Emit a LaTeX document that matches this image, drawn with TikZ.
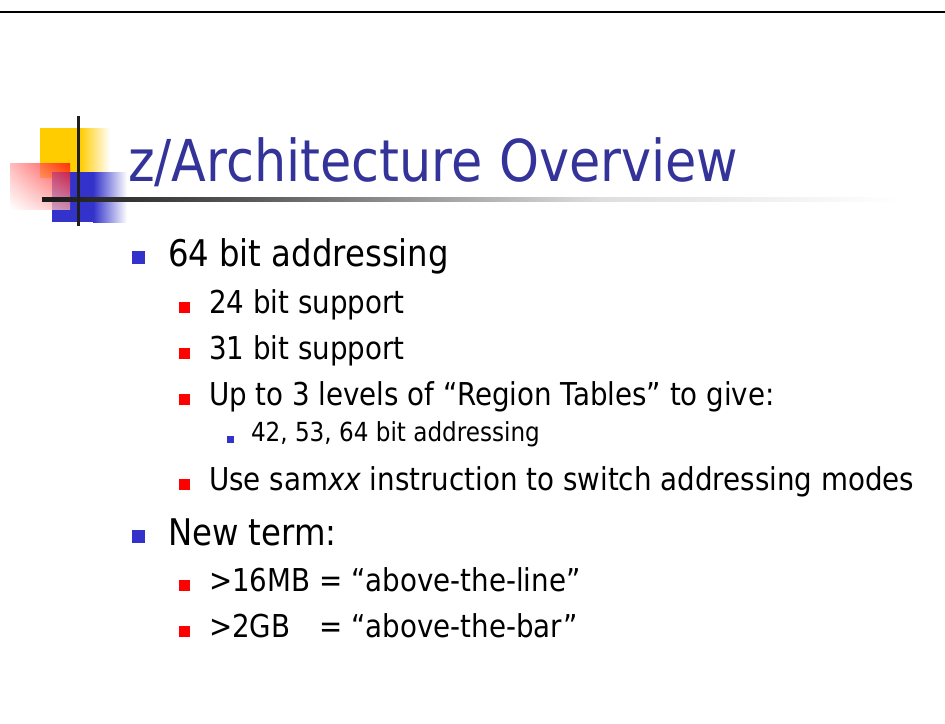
\documentclass[tikz,border=0pt]{standalone}
\usepackage{fontspec}
\setmainfont{DejaVu Sans}[FakeStretch=0.88]
\usetikzlibrary{positioning, shadings}
\definecolor{title-blue}{RGB}{51,51,153}
\definecolor{mark-blue}{RGB}{51,51,204}
\definecolor{mark-red}{RGB}{255,0,0}
\definecolor{logo-yellow}{RGB}{255,204,0}

\begin{document}
\begin{tikzpicture}
    [x=0.7619pt, y=-0.7619pt,
    txt/.style = {anchor=base west, inner sep=0pt, outer sep=0pt},
    lvl1/.style = {txt, font=\fontsize{28}{34}\selectfont},
    lvl2/.style = {txt, font=\fontsize{24}{29}\selectfont},
    lvl3/.style = {txt, font=\fontsize{20}{24}\selectfont},
    sq/.style = {rectangle, inner sep=0pt, outer sep=0pt, anchor=south west},
    mark1/.style = {sq, fill=mark-blue, minimum size=9.9pt},
    mark2/.style = {sq, fill=mark-red, minimum size=8.1pt},
    mark3/.style = {sq, fill=mark-blue, minimum size=5.6pt},
    ]

    \useasboundingbox (0,0) rectangle (945,723);
    \fill[white] (0,0) rectangle (945,723);
    \fill[black] (0,10.5) rectangle (945,12.5);

    % logo
    \fill[logo-yellow] (40,128) rectangle (80,178);
    \shade[left color=logo-yellow, right color=white] (80,128) rectangle (110,178);
    \fill[mark-blue] (52,172) rectangle (93,222);
    \shade[left color=mark-blue, right color=white] (93,172) rectangle (127,222);
    \shade[upper right=mark-red, upper left=red!35!white, lower right=red!35!white,
        lower left=white, opacity=0.75] (10,163) rectangle (70,209);
    \shade[left color=black!90, right color=black!65] (42,197.5) rectangle (250,201.5);
    \shade[left color=black!65, right color=black!13] (250,197.5) rectangle (600,201.5);
    \shade[left color=black!13, right color=white] (600,197.5) rectangle (900,201.5);
    \fill[black!88] (76.5,116) rectangle (79.5,226);

	\node[txt, font=\fontsize{44}{52}\selectfont, text=title-blue] (title) at (128,181) {z/Architecture Overview};

	\node[mark1] (m-addr) at (132,264) {};
	\node[lvl1] (addr) at (168,266) {64 bit addressing};
	\node[mark2] (m-s24) at (179,312.5) {};
	\node[lvl2] (s24) at (209,313) {24 bit support};
	\node[mark2] (m-s31) at (179,358.5) {};
	\node[lvl2] (s31) at (209,359) {31 bit support};
	\node[mark2] (m-rt) at (179,404.5) {};
	\node[lvl2] (rt) at (209,405) {Up to 3 levels of “Region Tables” to give:};
	\node[mark3] (m-bits) at (227,443) {};
	\node[lvl3] (bits) at (251,441) {42, 53, 64 bit addressing};
	\node[mark2] (m-sam) at (179,489.5) {};
	\node[lvl2] (sam) at (209,490) {Use sam\textit{xx} instruction to switch addressing modes};

	\node[mark1] (m-term) at (132,543) {};
	\node[lvl1] (term) at (168,545) {New term:};
	\node[mark2] (m-line) at (179,590.5) {};
	\node[lvl2] (line) at (209,591) {>16MB = “above-the-line”};
	\node[mark2] (m-bar) at (179,636.5) {};
	\node[lvl2] (bar) at (209,637) {\rlap{>2GB}\phantom{>16MB} = “above-the-bar”};
\end{tikzpicture}
\end{document}
